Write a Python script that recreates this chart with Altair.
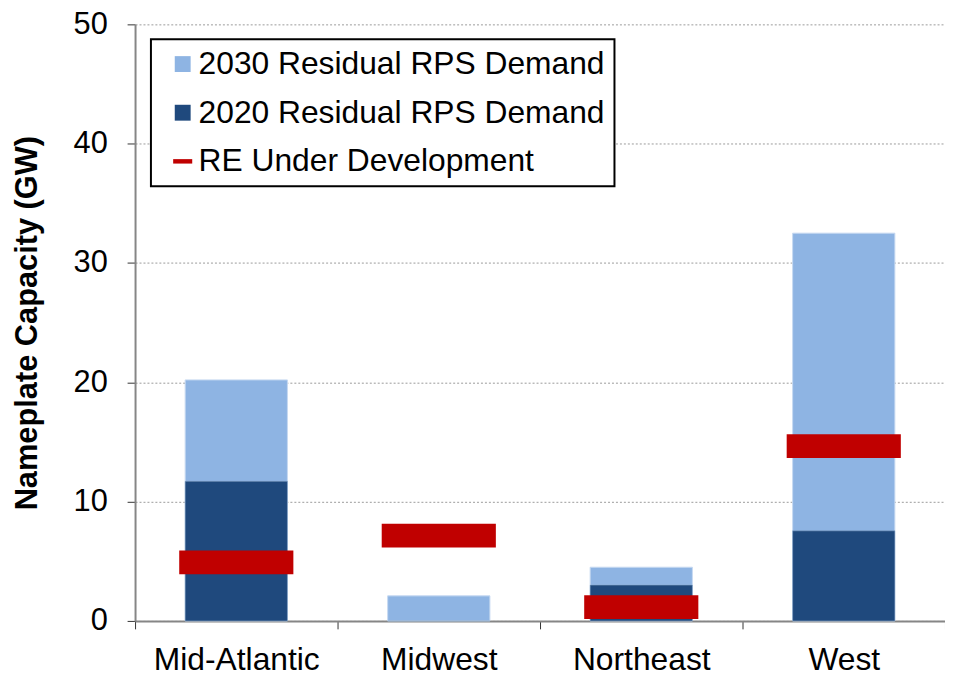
import altair as alt
import pandas as pd

regions = ["Mid-Atlantic", "Midwest", "Northeast", "West"]
demand_2030 = [20.2, 2.1, 4.5, 32.5]
demand_2020 = [11.7, 0.0, 3.0, 7.55]
re_under_dev = [4.9, 7.15, 1.15, 14.65]

series = ["2030 Residual RPS Demand", "2020 Residual RPS Demand", "RE Under Development"]
colors = ["#8eb4e3", "#1f497d", "#c00000"]

rows = []
for r, a, b, c in zip(regions, demand_2030, demand_2020, re_under_dev):
    rows.append({"region": r, "series": series[0], "value": a})
    rows.append({"region": r, "series": series[1], "value": b})
    rows.append({"region": r, "series": series[2], "value": c})
df = pd.DataFrame(rows)

FONT = "Liberation Sans"

x_enc = alt.X(
    "region:N",
    sort=regions,
    scale=alt.Scale(paddingInner=0, paddingOuter=0),
    axis=alt.Axis(
        title=None,
        labelAngle=0,
        labelFontSize=32,
        labelFont=FONT,
        labelColor="black",
        labelPadding=16,
        labelLimit=0,
        tickBand="extent",
        tickSize=8,
        tickColor="#333333",
        domainColor="#868686",
        domainWidth=2,
        grid=False,
    ),
)
y_enc = alt.Y(
    "value:Q",
    scale=alt.Scale(domain=[0, 50], nice=False),
    axis=alt.Axis(
        title="Nameplate Capacity (GW)",
        titleFontSize=31,
        titleFont=FONT,
        titleFontWeight="bold",
        titleColor="black",
        titlePadding=30,
        values=[0, 10, 20, 30, 40, 50],
        labelFontSize=31,
        labelFont=FONT,
        labelColor="black",
        labelPadding=20,
        tickSize=8,
        tickColor="#333333",
        domainColor="#868686",
        domainWidth=2,
        gridColor="#9a9a9a",
        gridDash=[2, 2],
        gridWidth=1,
    ),
)
color_enc = alt.Color(
    "series:N",
    scale=alt.Scale(domain=series, range=colors),
    legend=alt.Legend(
        title=None,
        orient="none",
        legendX=16,
        legendY=15,
        labelFontSize=32,
        labelFont=FONT,
        labelColor="black",
        labelLimit=0,
        labelOffset=0,
        symbolSize=256,
        symbolStrokeWidth=0,
        symbolOpacity=1,
        symbolOffset=7,
        rowPadding=17,
        padding=9,
        fillColor="white",
    ),
)
shape_enc = alt.Shape(
    "series:N",
    scale=alt.Scale(
        domain=series,
        range=["square", "square", "M-1.2,-0.28L1.2,-0.28L1.2,0.28L-1.2,0.28Z"],
    ),
    legend=alt.Legend(title=None),
)

base = alt.Chart(df)

bars30 = base.transform_filter(alt.datum.series == series[0]).mark_bar(
    size=103, stroke="#c6d9f1", strokeWidth=1
).encode(x=x_enc, y=y_enc, color=color_enc)

bars20 = base.transform_filter(alt.datum.series == series[1]).mark_bar(
    size=103, stroke="#8ea9c8", strokeWidth=0.5
).encode(x=x_enc, y=y_enc, color=color_enc)

re = base.transform_filter(alt.datum.series == series[2]).mark_tick(
    size=115, thickness=24, opacity=1
).encode(x=x_enc, y=y_enc, color=color_enc)

legend_pts = base.mark_point(filled=True, opacity=0).encode(
    x=x_enc, y=y_enc, color=color_enc, shape=shape_enc
)

chart = (
    alt.layer(bars30, bars20, re, legend_pts)
    .properties(
        width=816,
        height=601,
        autosize="none",
        padding={"left": 128, "top": 14, "right": 0, "bottom": 53},
    )
    .configure_view(stroke=None)
    .configure_axis(labelFont=FONT, titleFont=FONT)
    .configure_legend(strokeColor="black", strokeWidth=2)
)

chart.save("out.html", embed_options={"renderer": "svg", "actions": False})
